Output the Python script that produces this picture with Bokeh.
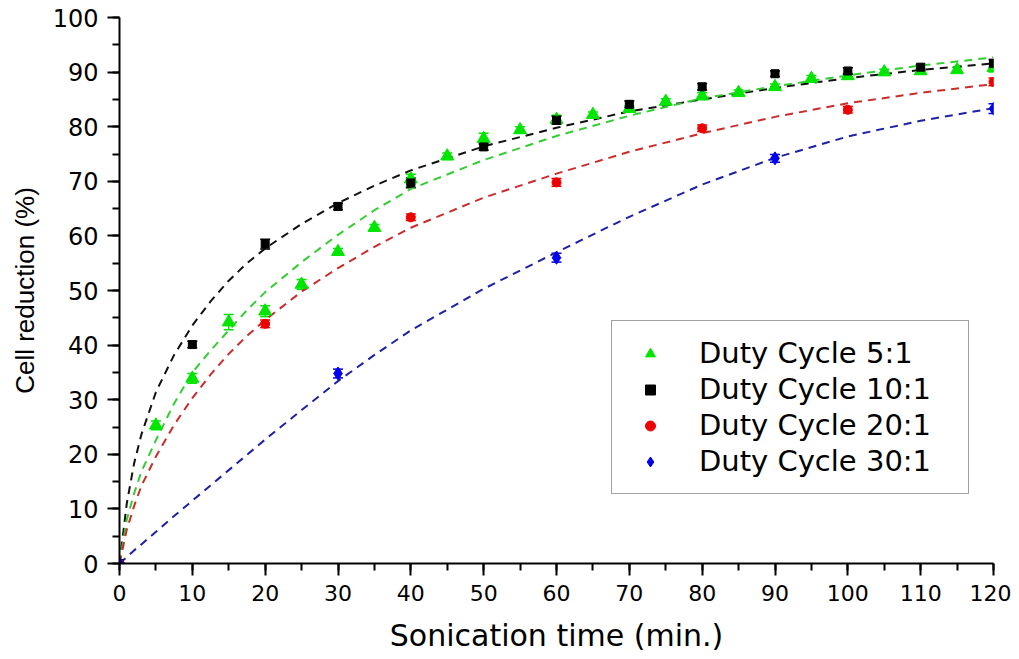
from bokeh.plotting import figure
from bokeh.models import (ColumnDataSource, Range1d, SingleIntervalTicker, Whisker, TeeHead,
                          Legend, LegendItem)
from bokeh.embed import file_html
from bokeh.resources import INLINE

# ---------------- data ----------------
t_5 = [0, 5, 10, 15, 20, 25, 30, 35, 40, 45, 50, 55, 60, 65, 70, 75, 80, 85, 90, 95, 100, 105, 110, 115, 120]
y_5 = [0, 25.3, 33.9, 44.2, 46.2, 51.1, 57.1, 61.5, 70.4, 74.6, 77.8, 79.4, 81.3, 82.2, 83.3, 84.6, 85.6, 86.2, 87.3, 88.8, 89.3, 90.0, 90.2, 90.4, 90.8]
e_5 = [0, 0.8, 0.9, 1.4, 1.0, 0.9, 0.6, 0.6, 0.9, 0.6, 1.0, 0.6, 0.8, 0.5, 0.5, 0.5, 0.6, 0.5, 0.5, 0.6, 0.5, 0.5, 0.5, 0.5, 0.8]

t_10 = [0, 10, 20, 30, 40, 50, 60, 70, 80, 90, 100, 110, 120]
y_10 = [0, 40.1, 58.5, 65.4, 69.7, 76.3, 81.2, 84.1, 87.3, 89.7, 90.2, 90.9, 91.6]
e_10 = [0, 0.6, 0.9, 0.6, 0.9, 0.6, 0.7, 0.6, 0.6, 0.5, 0.6, 0.5, 0.7]

t_20 = [0, 20, 40, 60, 80, 100, 120]
y_20 = [0, 43.9, 63.4, 69.8, 79.7, 83.1, 88.2]
e_20 = [0, 0.7, 0.6, 0.7, 0.6, 0.6, 0.7]

t_30 = [0, 30, 60, 90, 120]
y_30 = [0, 34.8, 56.0, 74.2, 83.3]
e_30 = [0, 0.8, 0.8, 0.7, 0.9]

fit_t = [0, 1, 2, 3, 5, 7.5, 10, 12.5, 15, 17.5, 20, 25, 30, 35, 40, 50, 60, 70, 80, 90, 100, 110, 120]
fit_5 = [0, 8.0, 12.8, 16.8, 22.6, 29.3, 35.0, 39.0, 42.7, 46.4, 49.7, 55.2, 60.2, 64.7, 68.6, 73.9, 78.3, 82.0, 85.2, 87.4, 89.4, 91.2, 92.7]
fit_10 = [0, 11.0, 18.3, 23.6, 31.4, 38.2, 43.6, 48.0, 51.8, 55.0, 57.7, 62.2, 66.0, 69.2, 72.0, 76.4, 79.8, 82.8, 85.0, 87.1, 88.9, 90.4, 91.6]
fit_20 = [0, 6.2, 10.5, 14.2, 19.6, 25.4, 30.3, 34.6, 38.4, 41.7, 44.6, 49.8, 54.1, 58.0, 61.5, 67.0, 71.4, 75.4, 78.8, 81.8, 84.3, 86.2, 87.8]
fit_30 = [0, 1.2, 2.4, 3.5, 5.8, 8.7, 11.5, 14.3, 17.1, 19.9, 22.7, 28.1, 33.4, 38.2, 42.7, 50.3, 57.0, 63.5, 69.4, 74.3, 78.2, 81.1, 83.4]

labels = ["Duty Cycle 5:1", "Duty Cycle 10:1", "Duty Cycle 20:1", "Duty Cycle 30:1"]

# ---------------- figure ----------------
p = figure(frame_width=874, frame_height=546, output_backend="svg", toolbar_location=None,
           x_range=Range1d(0, 120), y_range=Range1d(0, 100),
           min_border_left=119, min_border_right=18, min_border_top=17, min_border_bottom=88)
p.outline_line_color = None
p.xgrid.visible = False
p.ygrid.visible = False
p.background_fill_color = "white"
p.border_fill_color = "white"

p.xaxis.ticker = SingleIntervalTicker(interval=10, num_minor_ticks=2)
p.yaxis.ticker = SingleIntervalTicker(interval=10, num_minor_ticks=2)

for ax in (p.xaxis[0], p.yaxis[0]):
    ax.axis_line_width = 2
    ax.axis_line_color = "black"
    ax.major_tick_line_width = 2
    ax.minor_tick_line_width = 2
    ax.major_tick_line_color = "black"
    ax.minor_tick_line_color = "black"
    ax.major_tick_in = 0
    ax.minor_tick_in = 0
    ax.major_tick_out = 12
    ax.minor_tick_out = 7
    ax.major_label_text_font = "DejaVu Sans"
    ax.major_label_text_color = "black"
    ax.axis_label_text_font_style = "normal"
    ax.axis_label_text_color = "black"
    ax.major_label_standoff = 9

p.xaxis.major_label_text_font_size = "22px"
p.yaxis.major_label_text_font_size = "24px"
p.xaxis.axis_label = "Sonication time (min.)"
p.xaxis.axis_label_text_font = "DejaVu Sans"
p.xaxis.axis_label_text_font_size = "30px"
p.xaxis.axis_label_standoff = 14
p.yaxis.axis_label = "Cell reduction (%)"
p.yaxis.axis_label_text_font = "Liberation Sans"
p.yaxis.axis_label_text_font_size = "26px"
p.yaxis.axis_label_standoff = 10

# fitted dashed curves
p.line(fit_t, fit_10, line_color="#111111", line_width=2, line_dash="8 6")
p.line(fit_t, fit_5, line_color="#33cc33", line_width=2, line_dash="8 6")
p.line(fit_t, fit_20, line_color="#cc2b2b", line_width=2, line_dash="8 6")
p.line(fit_t, fit_30, line_color="#1f1fa8", line_width=2, line_dash="8 6")

series = [
    (t_5, y_5, e_5, "#00e600", "triangle", 13),
    (t_10, y_10, e_10, "#000000", "square", 8),
    (t_20, y_20, e_20, "#ee0000", "circle", 9),
    (t_30, y_30, e_30, "#0000ee", "diamond", 13),
]
renderers = []
for t, y, e, col, mk, sz in series:
    src = ColumnDataSource(dict(t=t, y=y, up=[a + b for a, b in zip(y, e)], lo=[a - b for a, b in zip(y, e)]))
    w = Whisker(base="t", upper="up", lower="lo", source=src, dimension="height",
                line_color=col, line_width=1.5,
                upper_head=TeeHead(size=10, line_color=col, line_width=1.5),
                lower_head=TeeHead(size=10, line_color=col, line_width=1.5))
    p.add_layout(w)
    r = p.scatter("t", "y", source=src, marker=mk, size=sz, fill_color=col, line_color=col)
    renderers.append(r)

legend = Legend(items=[LegendItem(label=l, renderers=[r]) for l, r in zip(labels, renderers)],
                location=(492, 69), orientation="vertical",
                label_text_font="DejaVu Sans", label_text_font_size="29px", label_text_color="black",
                glyph_width=46, glyph_height=25, label_standoff=26, label_width=254, label_height=34,
                spacing=2, padding=15, margin=0,
                border_line_color="#444444", border_line_width=1.5,
                background_fill_color="white", background_fill_alpha=1.0)
p.add_layout(legend, "center")

open("out.html", "w").write(file_html(p, INLINE))
